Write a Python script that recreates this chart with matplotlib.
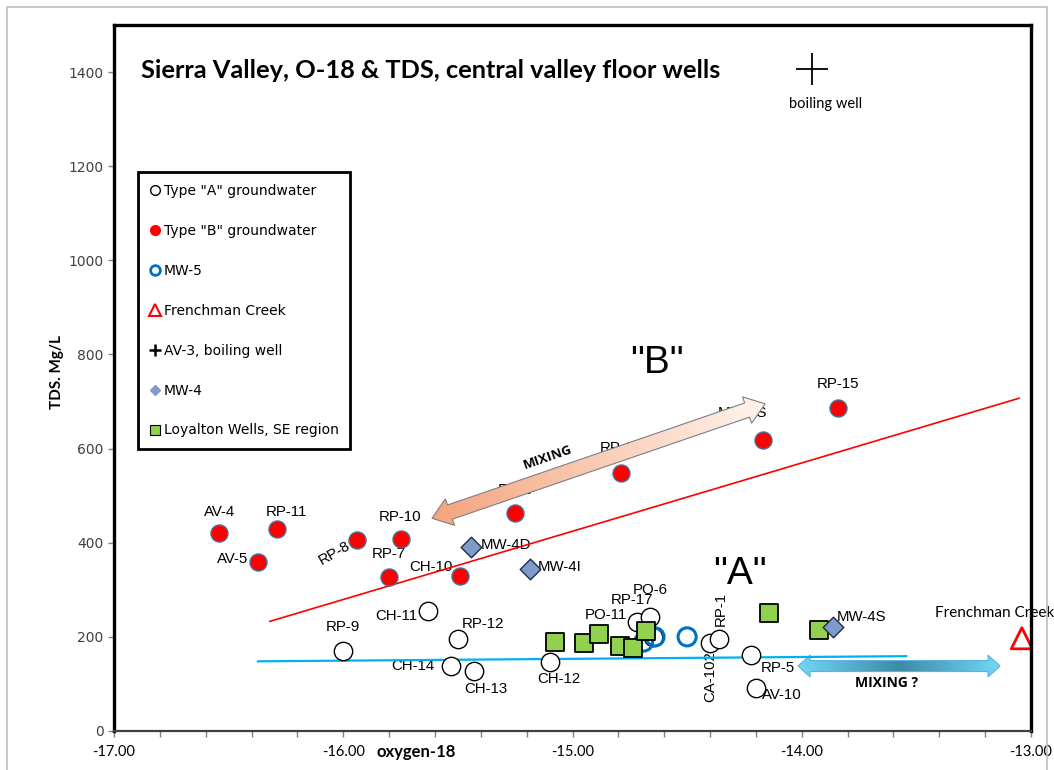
import numpy as np
import matplotlib
matplotlib.use('Agg')
import matplotlib.pyplot as plt
from matplotlib.lines import Line2D
from matplotlib.patches import Polygon, Rectangle
from matplotlib.colors import LinearSegmentedColormap

# Type "B" groundwater (red)
type_b_labels = ['AV-4', 'RP-11', 'AV-5', 'RP-8', 'RP-10', 'RP-7', 'CH-10', 'RP-2', 'RP-16', 'MW-3S', 'RP-15']
type_b_x = [-16.54, -16.29, -16.37, -15.94, -15.75, -15.80, -15.49, -15.25, -14.79, -14.17, -13.84]
type_b_y = [420, 429, 359, 406, 408, 327, 329, 463, 548, 618, 686]

# Type "A" groundwater (open circles)
type_a_labels = ['RP-9', 'CH-11', 'RP-12', 'CH-14', 'CH-13', 'CH-12', 'RP-17', 'PO-6', 'PO-11',
                 'CA-102', 'RP-1', 'RP-5', 'AV-10']
type_a_x = [-16.00, -15.63, -15.50, -15.53, -15.43, -15.10, -14.72, -14.66, -14.65, -14.40, -14.36, -14.22, -14.20]
type_a_y = [170, 255, 195, 138, 127, 147, 232, 242, 200, 187, 195, 161, 91]

mw5_x = [-14.69, -14.64, -14.50]
mw5_y = [189, 200, 200]

creek_x = [-13.04]
creek_y = [197]

boiling_x = [-13.955]
boiling_y = [1406]

mw4_labels = ['MW-4D', 'MW-4I', 'MW-4S']
mw4_x = [-15.443, -15.185, -13.864]
mw4_y = [391, 344, 221]

loyalton_x = [-15.076, -14.950, -14.884, -14.793, -14.736, -14.679, -14.143, -13.925]
loyalton_y = [189, 187, 206, 181, 176, 212, 251, 215]

# trend lines and mixing arrows (end points)
trend_b_x = [-16.32, -13.052]
trend_b_y = [233, 707]
trend_a_x = [-16.372, -13.545]
trend_a_y = [148, 159]
mix_b_x = [-15.613, -14.160]
mix_b_y = [452, 695]
mix_a_x = [-14.016, -13.135]
mix_a_y = [138, 138]

x_ticks = [-17, -16, -15, -14, -13]
y_ticks = [0, 200, 400, 600, 800, 1000, 1200, 1400]

# label placement: offset in pixels, ha, rotation
label_pos = {
    'AV-4': (0, 21, 'center', 0), 'RP-11': (10, 17, 'center', 0), 'AV-5': (-10, 3, 'right', 0),
    'RP-8': (-23, -13, 'center', 30), 'RP-10': (0, 22, 'center', 0), 'RP-7': (0, 23, 'center', 0),
    'CH-10': (-8, 9, 'right', 0), 'RP-2': (0, 23, 'center', 0), 'RP-16': (0, 25, 'center', 0),
    'MW-3S': (-20, 27, 'center', 0), 'RP-15': (0, 24, 'center', 0),
    'RP-9': (0, 24, 'center', 0), 'CH-11': (-11, -5, 'right', 0), 'RP-12': (4, 15, 'left', 0),
    'CH-14': (-16, 0, 'right', 0), 'CH-13': (12, -18, 'center', 0), 'CH-12': (9, -17, 'center', 0),
    'RP-17': (-5, 22, 'center', 0), 'PO-6': (0, 27, 'center', 0), 'PO-11': (-47, 22, 'center', 0),
    'CA-102': (0, -34, 'center', 90), 'RP-1': (2, 30, 'center', 90), 'RP-5': (26, -13, 'center', 0),
    'AV-10': (26, -7, 'center', 0),
    'MW-4D': (10, 2, 'left', 0), 'MW-4I': (8, 2, 'left', 0), 'MW-4S': (4, 10, 'left', 0),
}

narrow = ['Liberation Sans Narrow', 'Lato', 'DejaVu Sans']


def grad_arrow(ax, xs, ys, shaft_w, head_w, head_l, colors, edge, z):
    T = ax.transData
    a = T.transform((xs[0], ys[0]))
    b = T.transform((xs[1], ys[1]))
    d = b - a
    L = np.hypot(*d)
    u = d / L
    n = np.array([-u[1], u[0]])
    hs, hh = shaft_w / 2, head_w / 2
    pts = [a, a + u * head_l + n * hh, a + u * head_l + n * hs, b - u * head_l + n * hs,
           b - u * head_l + n * hh, b, b - u * head_l - n * hh, b - u * head_l - n * hs,
           a + u * head_l - n * hs, a + u * head_l - n * hh]
    pd = T.inverted().transform(np.array(pts))
    poly = Polygon(pd, closed=True, facecolor='none', edgecolor=edge, lw=0.8, zorder=z + 0.1)
    ax.add_patch(poly)
    x0, y0 = pd.min(0)
    x1, y1 = pd.max(0)
    gx, gy = np.meshgrid(np.linspace(x0, x1, 400), np.linspace(y0, y1, 120))
    disp = T.transform(np.column_stack([gx.ravel(), gy.ravel()]))
    t = (((disp - a) @ u) / L).reshape(gx.shape).clip(0, 1)
    cmap = LinearSegmentedColormap.from_list('g', colors)
    im = ax.imshow(t, extent=(x0, x1, y0, y1), origin='lower', cmap=cmap, vmin=0, vmax=1,
                   aspect='auto', zorder=z, interpolation='bilinear')
    im.set_clip_path(poly)


fig = plt.figure(figsize=(10.54, 7.70), dpi=100)
ax = fig.add_axes([114 / 1054, 39 / 770, 917 / 1054, 706 / 770])
ax.set_xlim(-17, -13)
ax.set_ylim(0, 1500)

# outer frame
fig.patches.append(Rectangle((7 / 1054, -0.01), 1040 / 1054, 763 / 770 + 0.01, transform=fig.transFigure,
                             fill=False, edgecolor='#BFBFBF', lw=1.2))

for s in ['left', 'top', 'right']:
    ax.spines[s].set_linewidth(2.4)
    ax.spines[s].set_color('black')
ax.spines['bottom'].set_linewidth(1.6)
ax.spines['bottom'].set_color('#404040')
for s in ax.spines.values():
    s.set_zorder(6)

ax.set_xticks(x_ticks)
ax.set_xticklabels(['%.2f' % v for v in x_ticks], family=narrow, fontsize=10.5)
ax.set_xticks(np.arange(-17, -12.9, 0.2), minor=True)
ax.set_yticks(y_ticks)
ax.set_yticklabels([str(v) for v in y_ticks], fontsize=10, color='#404040')
ax.tick_params(axis='both', which='both', direction='out', color='#808080', length=4, width=1)
ax.tick_params(axis='x', pad=6)

ax.text(-0.062, 0.508, 'TDS. Mg/L', transform=ax.transAxes, rotation=90, ha='center', va='center',
        fontsize=11, fontweight='bold', family=narrow)
ax.text(0.329, -0.030, 'oxygen-18', transform=ax.transAxes, ha='center', va='center',
        fontsize=12, fontweight='bold', family=narrow)

ax.text(0.029, 0.936, 'Sierra Valley, O-18 & TDS, central valley floor wells', transform=ax.transAxes,
        ha='left', va='center', fontsize=18.3, fontweight='bold', family=['Lato', 'DejaVu Sans'])

# trend lines
ax.plot(trend_b_x, trend_b_y, color='#FF0000', lw=1.2, zorder=4)
ax.plot(trend_a_x, trend_a_y, color='#00B0F0', lw=1.6, zorder=4)

# mixing arrows
grad_arrow(ax, mix_b_x, mix_b_y, 15, 28, 19, ['#F4A47E', '#F9CDB5', '#FFF4EE'], '#7F7F7F', 3.5)
grad_arrow(ax, mix_a_x, mix_a_y, 11, 22, 12, ['#72D6F7', '#3C8AA8', '#72D6F7'], '#5AB4DE', 3.5)
ax.set_xlim(-17, -13)
ax.set_ylim(0, 1500)

ax.text(-15.107, 582, 'MIXING', rotation=19, ha='center', va='center', fontsize=9.5,
        fontweight='bold', family=['Open Sans', 'DejaVu Sans'], zorder=5)
ax.text(-13.632, 102, 'MIXING ?', ha='center', va='center', fontsize=10,
        fontweight='bold', family=['Open Sans', 'DejaVu Sans'], zorder=5)
ax.text(-14.631, 782, '"B"', ha='center', va='center', fontsize=28, family='Liberation Sans', zorder=5)
ax.text(-14.269, 333, '"A"', ha='center', va='center', fontsize=28, family='Liberation Sans', zorder=5)

# markers
ax.scatter(type_a_x, type_a_y, s=175, facecolor='white', edgecolor='black', lw=1.0, zorder=5)
ax.scatter(mw5_x, mw5_y, s=170, facecolor='none', edgecolor='#0070C0', lw=2.2, zorder=5.1)
ax.scatter(loyalton_x, loyalton_y, s=150, marker='s', facecolor='#92D050', edgecolor='black', lw=1.3, zorder=5.2)
ax.scatter(type_b_x, type_b_y, s=150, facecolor='#FF0000', edgecolor='#41719C', lw=1.0, zorder=5)
ax.scatter(mw4_x, mw4_y, s=110, marker='D', facecolor='#7F9ACB', edgecolor='#1F2D4A', lw=1.0, zorder=5.3)
ax.scatter(creek_x, creek_y, s=230, marker='^', facecolor='none', edgecolor='#FF0000', lw=2.0, zorder=5)
ax.scatter(boiling_x, boiling_y, s=520, marker='+', color='black', lw=1.3, zorder=5)

# point labels
lab_font = dict(fontsize=10.8, family='Liberation Sans', zorder=3)
for xs, ys, labs in [(type_b_x, type_b_y, type_b_labels), (type_a_x, type_a_y, type_a_labels),
                     (mw4_x, mw4_y, mw4_labels)]:
    for x, y, lab in zip(xs, ys, labs):
        dx, dy, ha, rot = label_pos[lab]
        ax.annotate(lab, (x, y), xytext=(dx, dy), textcoords='offset pixels', ha=ha, va='center',
                    rotation=rot, **lab_font)
ax.annotate('Frenchman Creek', (creek_x[0], creek_y[0]), xytext=(-27, 25), textcoords='offset pixels',
            ha='center', va='center', fontsize=11, family=['Lato', 'DejaVu Sans'], zorder=3,
            annotation_clip=False).set_clip_on(False)
ax.annotate('boiling well', (boiling_x[0], boiling_y[0]), xytext=(13, -35), textcoords='offset pixels',
            ha='center', va='center', fontsize=10.5, family=['Lato', 'DejaVu Sans'], zorder=3)

# legend
handles = [
    Line2D([], [], ls='', marker='o', ms=7, mfc='white', mec='black', mew=1.0),
    Line2D([], [], ls='', marker='o', ms=7, mfc='#FF0000', mec='#FF0000'),
    Line2D([], [], ls='', marker='o', ms=7, mfc='white', mec='#0070C0', mew=2.0),
    Line2D([], [], ls='', marker='^', ms=8, mfc='white', mec='#FF0000', mew=1.5),
    Line2D([], [], ls='', marker='+', ms=8, color='black', mew=1.8),
    Line2D([], [], ls='', marker='D', ms=5.5, mfc='#7F9ACB', mec='#7F9ACB'),
    Line2D([], [], ls='', marker='s', ms=7.5, mfc='#92D050', mec='black', mew=0.8),
]
names = ['Type "A" groundwater', 'Type "B" groundwater', 'MW-5', 'Frenchman Creek',
         'AV-3, boiling well', 'MW-4', 'Loyalton Wells, SE region']
leg = ax.legend(handles, names, loc='upper left', bbox_to_anchor=(0.026, 0.792), borderaxespad=0,
                handlelength=0.7, handletextpad=0.3, labelspacing=1.87, borderpad=0.85,
                fancybox=False, framealpha=1, edgecolor='black', prop={'family': 'DejaVu Sans', 'size': 10})
leg.get_frame().set_linewidth(2.0)
leg.set_zorder(7)

fig.savefig('out.png', dpi=100)
